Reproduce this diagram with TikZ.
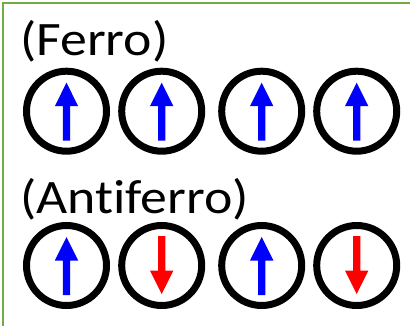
\documentclass[tikz,border=0pt]{standalone}
\usepackage{fontspec}
\setmainfont[Ligatures=NoCommon]{Carlito}
\definecolor{frame}{HTML}{70AD47}
\begin{document}
\begin{tikzpicture}[x=1bp,y=-1bp,
  spin/.style={circle,draw=black,line width=7bp,minimum size=80bp,inner sep=0pt},
  lbl/.style={anchor=base west,inner sep=0pt,font=\fontsize{48bp}{57bp}\selectfont},
  upspin/.pic={\fill[blue] (0,-28.5) -- (11.7,-5) -- (3.7,-5) -- (3.7,29.5) -- (-3.7,29.5) -- (-3.7,-5) -- (-11.7,-5) -- cycle;},
  downspin/.pic={\fill[red] (0,28.5) -- (11.7,5) -- (3.7,5) -- (3.7,-29.5) -- (-3.7,-29.5) -- (-3.7,5) -- (-11.7,5) -- cycle;}]
\useasboundingbox (0,0) rectangle (410,326);
\draw[frame,line width=2bp] (2.7,330) -- (2.7,2.7) -- (415,2.7);
\node[lbl] (ferro) at (20,55.7) {\scalebox{1.12}[1]{(Ferro)}};
\node[lbl] (anti) at (20,213) {\scalebox{1.12}[1]{(Antiferro)}};
\foreach \x [count=\i] in {66.5,161.7,261.7,356.7} {
  \node[spin] (f\i) at (\x,111.2) {};
  \pic at (f\i.center) {upspin};
}
\node[spin] (a1) at (66.5,265.5) {};
\pic at (a1.center) {upspin};
\node[spin] (a2) at (161.7,265.5) {};
\pic at (a2.center) {downspin};
\node[spin] (a3) at (261.7,265.5) {};
\pic at (a3.center) {upspin};
\node[spin] (a4) at (356.7,265.5) {};
\pic at (a4.center) {downspin};
\end{tikzpicture}
\end{document}
